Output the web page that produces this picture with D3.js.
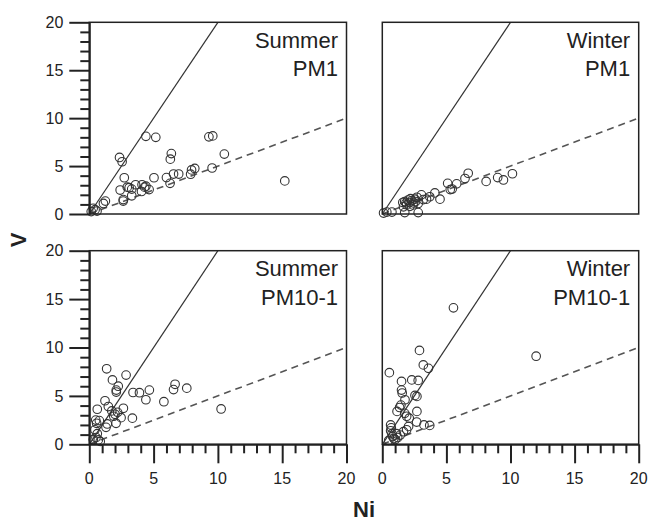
<!DOCTYPE html>
<html>
<head>
<meta charset="utf-8">
<script src="https://cdn.jsdelivr.net/npm/d3@7/dist/d3.min.js"></script>
<style>
  html, body { margin: 0; padding: 0; background: #fff; }
  svg { display: block; font-family: "Liberation Sans", Arial, Helvetica, sans-serif; }
</style>
</head>
<body>
<svg id="chart" width="651" height="521"></svg>
<script>
// ---- Data (Ni, V) ----
const summerPM1 = [
  [0.15,0.25],[0.3,0.6],[0.45,0.45],[0.6,0.3],[1.1,1.1],[1.25,1.35],[2.35,5.9],[2.55,5.45],
  [4.4,8.1],[5.17,8.0],[9.3,8.05],[9.6,8.15],[6.38,6.3],[6.3,5.72],[10.5,6.25],[15.2,3.45],
  [9.55,4.8],[8.2,4.75],[7.95,4.6],[7.88,4.15],[6.95,4.17],[6.55,4.17],[6.0,3.8],[6.28,3.2],
  [5.03,3.78],[2.72,3.78],[2.4,2.5],[2.95,2.8],[3.3,2.6],[3.6,3.05],[4.1,3.05],[4.4,2.9],
  [4.65,2.55],[4.06,2.35],[3.3,1.9],[2.64,1.5],[2.64,1.35],[3.1,2.75],[4.3,2.8]
];
const winterPM1 = [
  [0.1,0.1],[0.35,0.2],[0.75,0.2],[1.75,0.15],[2.8,0.15],[1.65,0.75],[2.15,0.8],[2.4,0.95],
  [1.9,0.95],[1.75,1.3],[2.0,1.45],[2.3,1.4],[2.55,1.55],[2.8,1.1],[1.85,1.15],[2.1,1.2],
  [2.6,1.3],[3.05,2.0],[3.45,1.55],[3.7,1.8],[4.1,2.2],[4.5,1.55],[5.1,3.2],[5.3,2.55],
  [5.45,2.6],[5.8,3.15],[6.45,3.7],[6.7,4.25],[8.1,3.4],[9.0,3.8],[9.45,3.55],[10.15,4.2],
  [2.2,1.6],[2.7,1.75],[3.2,1.5],[1.6,1.2],[2.45,1.15]
];
const summerPM10_1 = [
  [1.35,7.8],[2.86,7.15],[1.8,6.65],[2.25,6.0],[2.1,5.6],[2.1,5.4],[3.4,5.35],[3.9,5.33],
  [4.67,5.6],[4.4,4.6],[6.67,6.2],[6.55,5.65],[7.58,5.8],[5.8,4.4],[10.25,3.65],[1.22,4.5],
  [1.48,3.9],[1.75,3.45],[2.65,3.72],[0.62,3.62],[2.0,3.1],[2.47,2.75],[3.35,2.7],[2.08,2.17],
  [1.4,2.1],[1.3,1.75],[0.5,2.5],[0.78,2.45],[0.57,2.17],[0.44,1.5],[0.62,1.1],[0.52,0.7],
  [0.31,0.5],[0.7,0.45],[0.85,0.3],[2.2,3.3],[1.9,2.9]
];
const winterPM10_1 = [
  [5.55,14.1],[12.0,9.1],[2.9,9.7],[3.2,8.2],[3.6,7.85],[0.55,7.4],[1.5,6.5],[2.3,6.65],
  [2.8,6.6],[1.5,5.6],[1.55,5.3],[2.55,5.05],[2.7,4.95],[1.77,4.6],[1.45,4.05],[1.35,3.8],
  [1.15,3.4],[1.75,3.2],[1.9,2.9],[2.7,3.4],[2.1,2.7],[2.68,2.3],[3.25,2.0],[3.7,1.95],
  [2.05,1.85],[1.9,1.5],[0.65,2.0],[0.7,1.7],[0.65,1.4],[0.75,1.1],[0.8,0.8],[0.9,0.6],
  [1.1,1.1],[1.4,0.95],[1.65,1.3],[1.2,0.7],[0.5,0.4],[1.0,0.5]
];
const panelTitles = [["Summer","PM1"],["Winter","PM1"],["Summer","PM10-1"],["Winter","PM10-1"]];
const majorTicks = [0,5,10,15,20];
const minorTicks = [0,1,2,3,4,5,6,7,8,9,10,11,12,13,14,15,16,17,18,19,20];
const refLines = [ {slope: 2, dashed: false}, {slope: 0.5, dashed: true} ];
const xTitle = "Ni", yTitle = "V";

// ---- Layout ----
const svg = d3.select("#chart");
const cols = [[89.3, 346.5], [382.3, 638.7]];
const rows = [[22.3, 214], [250.7, 444.3]];
const panels = [
  {data: summerPM1,    col: 0, row: 0, title: panelTitles[0]},
  {data: winterPM1,    col: 1, row: 0, title: panelTitles[1]},
  {data: summerPM10_1, col: 0, row: 1, title: panelTitles[2]},
  {data: winterPM10_1, col: 1, row: 1, title: panelTitles[3]}
];
const ink = "#222";
const font = "'Liberation Sans', Arial, sans-serif";

panels.forEach((p, i) => {
  const [x0, x1] = cols[p.col];
  const [y0, y1] = rows[p.row];
  const x = d3.scaleLinear().domain([0, 20]).range([x0, x1]);
  const y = d3.scaleLinear().domain([0, 20]).range([y1, y0]);
  p.x = x; p.y = y;
  const g = svg.append("g");

  refLines.forEach(l => {
    const xEnd = Math.min(20, 20 / l.slope);
    g.append("line")
      .attr("x1", x(0)).attr("y1", y(0))
      .attr("x2", x(xEnd)).attr("y2", y(xEnd * l.slope))
      .attr("stroke", l.dashed ? "#555" : "#333")
      .attr("stroke-width", l.dashed ? 1.6 : 1.2)
      .attr("stroke-dasharray", l.dashed ? "7,5" : null);
  });

  g.append("g").selectAll("circle").data(p.data).join("circle")
    .attr("cx", d => x(d[0])).attr("cy", d => y(d[1])).attr("r", 4.3)
    .attr("fill", "none").attr("stroke", "#333").attr("stroke-width", 1.1);

  g.append("rect").attr("x", x0).attr("y", y0).attr("width", x1 - x0).attr("height", y1 - y0)
    .attr("fill", "none").attr("stroke", ink).attr("stroke-width", 1.5);

  if (p.col === 0) {
    g.append("g").selectAll("text").data(majorTicks).join("text")
      .attr("x", x0 - 26).attr("y", d => y(d)).attr("dy", "0.36em")
      .attr("text-anchor", "end").attr("font-size", 16).attr("font-family", font)
      .attr("fill", ink).text(d => d);
  }
  if (p.row === 1) {
    g.append("g").selectAll("text").data(majorTicks).join("text")
      .attr("x", d => x(d)).attr("y", 484)
      .attr("text-anchor", "middle").attr("font-size", 16).attr("font-family", font)
      .attr("fill", ink).text(d => d);
  }

  const t = g.append("text").attr("text-anchor", "end").attr("font-size", 22)
    .attr("font-family", font).attr("fill", ink);
  t.append("tspan").attr("x", x1 - 8.5).attr("y", y0 + 25.5).text(p.title[0]);
  t.append("tspan").attr("x", x1 - 8.5).attr("y", y0 + 54).text(p.title[1]);
});

// tick marks, drawn last with d3 axes
panels.forEach(p => {
  const [x0] = cols[p.col];
  const [, y1] = rows[p.row];
  if (p.col === 0) {
    svg.append("g").attr("transform", `translate(${x0},0)`)
      .call(d3.axisLeft(p.y).tickValues(minorTicks).tickSizeInner(9).tickSizeOuter(0).tickFormat(() => ""))
      .call(a => a.selectAll(".tick").filter(d => majorTicks.includes(d)).select("line").attr("x2", -20))
      .attr("color", ink)
      .call(a => a.selectAll("line, path").attr("stroke-width", 2));
  }
  if (p.row === 1) {
    svg.append("g").attr("transform", `translate(0,${y1})`)
      .call(d3.axisBottom(p.x).tickValues(minorTicks).tickSizeInner(9).tickSizeOuter(0).tickFormat(() => ""))
      .call(a => a.selectAll(".tick").filter(d => majorTicks.includes(d)).select("line").attr("y2", 19))
      .attr("color", ink)
      .call(a => a.selectAll("line, path").attr("stroke-width", 2));
  }
});

// axis titles
svg.append("text").attr("x", 364).attr("y", 517).attr("text-anchor", "middle")
  .attr("font-size", 22).attr("font-weight", "bold").attr("font-family", font)
  .attr("fill", ink).text(xTitle);
svg.append("text").attr("transform", "translate(26,240) rotate(-90)").attr("text-anchor", "middle")
  .attr("font-size", 22).attr("font-weight", "bold").attr("font-family", font)
  .attr("fill", ink).text(yTitle);
</script>
</body>
</html>
